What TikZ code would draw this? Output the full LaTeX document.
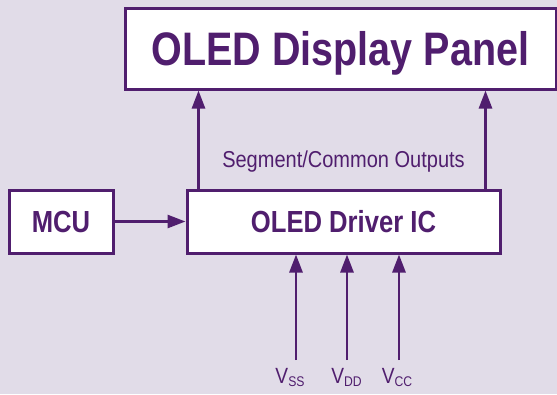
\documentclass[tikz,border=0pt]{standalone}
\usepackage{fontspec}
\setmainfont{Liberation Sans}
\newfontfamily\condb{Liberation Sans Bold}[FakeStretch=0.84]
\newfontfamily\condr{Liberation Sans}[FakeStretch=0.87]
\usetikzlibrary{arrows.meta}
\definecolor{pur}{RGB}{80,30,110}
\definecolor{bgc}{RGB}{225,220,232}
\newcommand\vsub[1]{{\fontsize{14}{14}\selectfont\raisebox{-3pt}{#1}}}
\begin{document}
\begin{tikzpicture}[x=1pt,y=-1pt,
  box/.style={draw=pur, line width=3pt, fill=white, inner sep=0pt, text=pur},
  arr/.style={draw=pur, line width=2.7pt, -{Triangle[length=18pt,width=13pt]}},
  lbl/.style={text=pur, inner sep=0pt, anchor=base}]
\fill[bgc] (0,0) rectangle (557,394);
\useasboundingbox (0,0) rectangle (557,394);
\node[box, minimum width=431pt, minimum height=81pt, text height=34pt, text depth=1pt,
  font=\condb\fontsize{47}{50}\selectfont] (panel) at (340.5,48.5) {OLED Display Panel};
\node[box, minimum width=104pt, minimum height=63pt, text height=22pt, text depth=1pt,
  font=\condb\fontsize{30.5}{32}\selectfont] (mcu) at (61,221.5) {MCU};
\node[box, minimum width=313pt, minimum height=63pt, text height=22pt, text depth=1pt,
  font=\condb\fontsize{30.5}{32}\selectfont] (drv) at (343.5,221.5) {OLED Driver IC};
\node[lbl, font=\condr\fontsize{23}{25}\selectfont] (seg) at (343.5,167) {Segment/Common Outputs};
\draw[arr] ([xshift=13pt]drv.north west) -- ([xshift=13pt]drv.north west |- panel.south);
\draw[arr] ([xshift=-16pt]drv.north east) -- ([xshift=-16pt]drv.north east |- panel.south);
\draw[arr] (mcu.east) -- (drv.west);
\coordinate (a1) at (296,360);
\coordinate (a2) at (347,360);
\coordinate (a3) at (399,360);
\draw[arr] (a1) -- (a1 |- drv.south);
\draw[arr] (a2) -- (a2 |- drv.south);
\draw[arr] (a3) -- (a3 |- drv.south);
\node[lbl, font=\condr\fontsize{22}{24}\selectfont] (vss) at (290,383) {V\vsub{SS}};
\node[lbl, font=\condr\fontsize{22}{24}\selectfont] (vdd) at (346.5,383) {V\vsub{DD}};
\node[lbl, font=\condr\fontsize{22}{24}\selectfont] (vcc) at (397,383) {V\vsub{CC}};
\end{tikzpicture}
\end{document}
